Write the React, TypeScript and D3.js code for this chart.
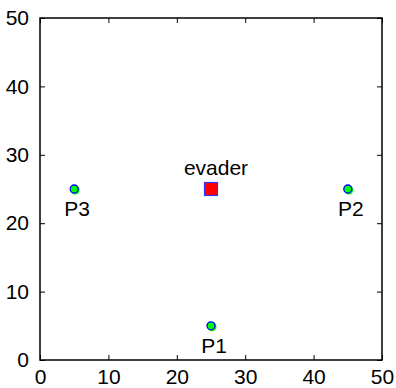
import { useEffect, useRef } from "react";
import * as d3 from "d3";

const pursuerNames = ["P1", "P2", "P3"];
const pursuerX = [25, 45, 5];
const pursuerY = [5, 25, 25];
const evaderName = "evader";
const evaderX = [25];
const evaderY = [25];
const tickValues = [0, 10, 20, 30, 40, 50];

const App = () => {
  const ref = useRef<SVGSVGElement | null>(null);

  useEffect(() => {
    const width = 396;
    const height = 388;
    const margin = { top: 18, right: 14, bottom: 28, left: 40 };
    const svg = d3.select(ref.current);
    svg.selectAll("*").remove();

    const x = d3.scaleLinear().domain([0, 50]).range([margin.left, width - margin.right]);
    const y = d3.scaleLinear().domain([0, 50]).range([height - margin.bottom, margin.top]);
    const font = "'Liberation Sans', Arial, Helvetica, sans-serif";

    svg.append("rect").attr("width", width).attr("height", height).attr("fill", "#fff");

    // axes (ticks inward on all sides)
    const tickLen = 5;
    const g = svg.append("g").attr("font-family", font).attr("font-size", 21);
    const bottom = g
      .append("g")
      .attr("transform", `translate(0,${y(0)})`)
      .call(d3.axisBottom(x).tickValues(tickValues).tickSize(-tickLen).tickPadding(tickLen + 4).tickSizeOuter(0));
    const left = g
      .append("g")
      .attr("transform", `translate(${x(0)},0)`)
      .call(d3.axisLeft(y).tickValues(tickValues).tickSize(-tickLen).tickPadding(tickLen + 6).tickSizeOuter(0));
    g.append("g")
      .attr("transform", `translate(0,${y(50)})`)
      .call(d3.axisTop(x).tickValues(tickValues).tickSize(-tickLen).tickFormat(() => "").tickSizeOuter(0));
    g.append("g")
      .attr("transform", `translate(${x(50)},0)`)
      .call(d3.axisRight(y).tickValues(tickValues).tickSize(-tickLen).tickFormat(() => "").tickSizeOuter(0));
    g.selectAll(".domain").remove();
    g.selectAll("line").attr("stroke", "#000").attr("stroke-width", 1);
    bottom.selectAll("text").attr("fill", "#000").attr("font-family", font).attr("font-size", 21).attr("dy", "0.71em");
    left.selectAll("text").attr("fill", "#000").attr("font-family", font).attr("font-size", 21);

    svg
      .append("rect")
      .attr("x", x(0))
      .attr("y", y(50))
      .attr("width", x(50) - x(0))
      .attr("height", y(0) - y(50))
      .attr("fill", "none")
      .attr("stroke", "#000")
      .attr("stroke-width", 1.5);

    // pursuers
    const pts = pursuerNames.map((name, i) => ({ name, x: pursuerX[i], y: pursuerY[i] }));
    const p = svg.append("g").selectAll("g").data(pts).enter().append("g");
    p.append("circle")
      .attr("cx", (d) => x(d.x) + 1)
      .attr("cy", (d) => y(d.y) + 1)
      .attr("r", 4.5)
      .attr("fill", "#00ff00");
    p.append("circle")
      .attr("cx", (d) => x(d.x))
      .attr("cy", (d) => y(d.y))
      .attr("r", 4)
      .attr("fill", "#00ff00")
      .attr("stroke", "#0000ff")
      .attr("stroke-width", 1.3);
    p.append("text")
      .attr("x", (d) => x(d.x) + 3)
      .attr("y", (d) => y(d.y) + 27)
      .attr("text-anchor", "middle")
      .attr("font-family", font)
      .attr("font-size", 21)
      .attr("fill", "#000")
      .text((d) => d.name);

    // evader
    const ev = svg.append("g");
    ev.selectAll("rect")
      .data(evaderX.map((v, i) => ({ x: v, y: evaderY[i] })))
      .enter()
      .append("rect")
      .attr("x", (d) => x(d.x) - 6.5)
      .attr("y", (d) => y(d.y) - 6.5)
      .attr("width", 13)
      .attr("height", 13)
      .attr("fill", "#ff0000")
      .attr("stroke", "#3333ff")
      .attr("stroke-width", 1.2);
    ev.append("text")
      .attr("x", x(evaderX[0]) + 5)
      .attr("y", y(evaderY[0]) - 14)
      .attr("text-anchor", "middle")
      .attr("font-family", font)
      .attr("font-size", 21)
      .attr("fill", "#000")
      .text(evaderName);
  }, []);

  return (
    <svg
      ref={ref}
      width={396}
      height={388}
      style={{ position: "absolute", left: 0, top: 0, display: "block" }}
    />
  );
};

export default App;
